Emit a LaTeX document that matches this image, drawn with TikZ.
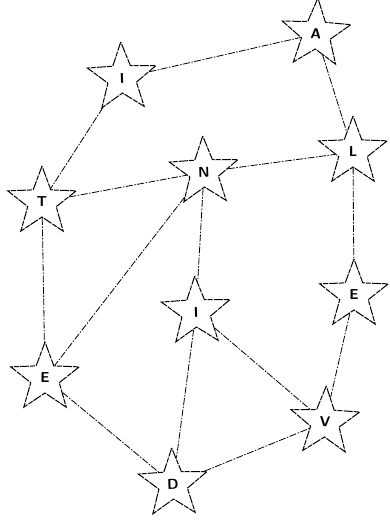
\documentclass[tikz,border=0pt]{standalone}
\usetikzlibrary{shapes.geometric}
\begin{document}
\begin{tikzpicture}[x=1pt,y=-1pt,
  starnode/.style={star, star points=5, star point ratio=2.4, minimum size=72pt,
    inner sep=0pt, draw=black, line width=1pt,
    dash pattern=on 9pt off 1.2pt on 5pt off 1pt,
    font=\sffamily\bfseries\Large},
  link/.style={draw=black, line width=0.8pt,
    dash pattern=on 7pt off 1.5pt on 1.5pt off 1.5pt}]
\useasboundingbox (0,0) rectangle (389,522);
\node[starnode, rotate=2] (i1) at (122,78) {I};
\node[starnode, rotate=-3] (a) at (316,34) {A};
\node[starnode, rotate=0] (l) at (353,152) {L};
\node[starnode, rotate=2] (n) at (204,172) {N};
\node[starnode, rotate=0] (t) at (42,202) {T};
\node[starnode, rotate=0] (er) at (354,295) {E};
\node[starnode, rotate=2] (i2) at (196,312) {I};
\node[starnode, rotate=0] (el) at (45,378) {E};
\node[starnode, rotate=-2] (v) at (325,422) {V};
\node[starnode, rotate=2] (d) at (173,484) {D};
\draw[link] (i1) -- (a);
\draw[link] (i1) -- (t);
\draw[link] (a) -- (l);
\draw[link] (t) -- (n);
\draw[link] (n) -- (l);
\draw[link] (t) -- (el);
\draw[link] (n) -- (el);
\draw[link] (n) -- (i2);
\draw[link] (l) -- (er);
\draw[link] (er) -- (v);
\draw[link] (i2) -- (v);
\draw[link] (i2) -- (d);
\draw[link] (el) -- (d);
\draw[link] (d) -- (v);
\end{tikzpicture}
\end{document}
